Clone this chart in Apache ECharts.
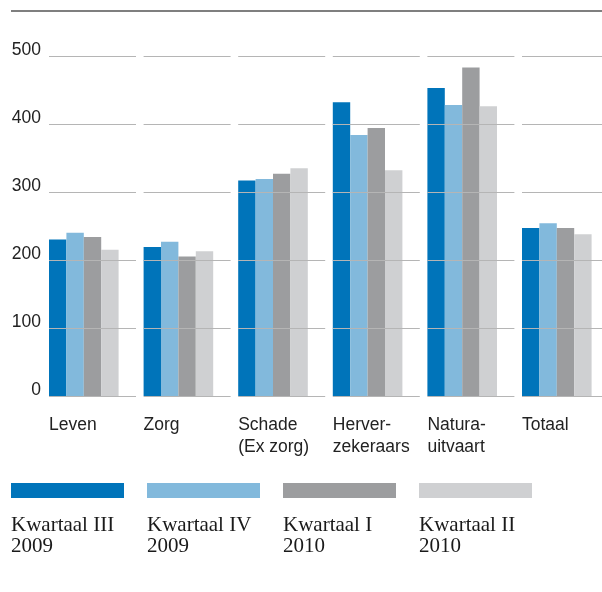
<!DOCTYPE html>
<html>
<head>
<meta charset="utf-8">
<script src="https://cdn.jsdelivr.net/npm/echarts@6/dist/echarts.min.js"></script>
<style>
  html, body { margin: 0; padding: 0; background: #fff; overflow: hidden; }
  /* a little wider than the window so the last segment runs off the edge like the original */
  #main { width: 612px; height: 592px; }
</style>
</head>
<body>
<div id="main"></div>
<script>
// data
var categories = ['Leven', 'Zorg', 'Schade\n(Ex zorg)', 'Herver-\nzekeraars', 'Natura-\nuitvaart', 'Totaal'];
var seriesNames = ['Kwartaal III\n2009', 'Kwartaal IV\n2009', 'Kwartaal I\n2010', 'Kwartaal II\n2010'];
var kw3_2009 = [230, 219, 317, 432, 453, 247];
var kw4_2009 = [240, 227, 319, 384, 428, 254];
var kw1_2010 = [234, 205, 327, 394, 483, 247];
var kw2_2010 = [215, 213, 335, 332, 426, 238];
var yMin = 0, yMax = 500, yStep = 100;

var values = [kw3_2009, kw4_2009, kw1_2010, kw2_2010];
var colors = ['#0074BA', '#82B9DC', '#9C9D9F', '#CFD0D2'];

var sans = '"Liberation Sans", Arial, sans-serif';
var serif = '"Liberation Serif", "Times New Roman", serif';
var gridCol = '#b5b5b5';
var step = 94.6, segW = 87, barW = segW / 5;

var grids = [], xAxes = [], yAxes = [], series = [];
categories.forEach(function (cat, i) {
  grids.push({ left: 49 + step * i, top: 56, width: segW, height: 340 });
  xAxes.push({
    gridIndex: i,
    type: 'category',
    data: [cat],
    axisLine: { show: false },
    axisTick: { show: false },
    axisLabel: {
      interval: 0,
      align: 'center',
      margin: 18,
      formatter: function (v) {
        return v.split('\n').map(function (l) { return '{a|' + l + '}'; }).join('\n');
      },
      rich: {
        a: { width: segW, align: 'left', fontFamily: sans, fontSize: 17.5, lineHeight: 22, color: '#222' }
      }
    }
  });
  yAxes.push({
    gridIndex: i,
    type: 'value',
    min: yMin,
    max: yMax,
    interval: yStep,
    z: 5,
    axisLine: { show: false },
    axisTick: { show: false },
    axisLabel: {
      show: i === 0,
      margin: 8,
      verticalAlign: 'bottom',
      lineHeight: 12,
      fontFamily: sans,
      fontSize: 17.5,
      color: '#222'
    },
    splitLine: { lineStyle: { color: gridCol, width: 1 } }
  });
  values.forEach(function (arr, s) {
    series.push({
      type: 'bar',
      name: seriesNames[s],
      xAxisIndex: i,
      yAxisIndex: i,
      z: 1,
      barWidth: barW,
      barGap: 0,
      itemStyle: { color: colors[s] },
      data: [arr[i]]
    });
  });
  // empty slot so the four bars sit at the left of each segment
  series.push({
    type: 'bar', xAxisIndex: i, yAxisIndex: i, barWidth: barW, barGap: 0,
    silent: true, data: [null]
  });
});

var graphics = [{
  type: 'line',
  shape: { x1: 11, y1: 11, x2: 602, y2: 11 },
  style: { stroke: '#7f7f7f', lineWidth: 2 }
}];
seriesNames.forEach(function (name, s) {
  graphics.push({
    type: 'rect',
    shape: { x: 11 + 136 * s, y: 483, width: 113, height: 15 },
    style: { fill: colors[s] }
  });
  graphics.push({
    type: 'text',
    x: 11 + 136 * s,
    y: 514.5,
    style: {
      text: name,
      font: '21px ' + serif,
      fill: '#1a1a1a',
      lineHeight: 21,
      verticalAlign: 'top'
    }
  });
});

var chart = echarts.init(document.getElementById('main'));
chart.setOption({
  animation: false,
  backgroundColor: '#fff',
  grid: grids,
  xAxis: xAxes,
  yAxis: yAxes,
  series: series,
  graphic: graphics
});
</script>
</body>
</html>
